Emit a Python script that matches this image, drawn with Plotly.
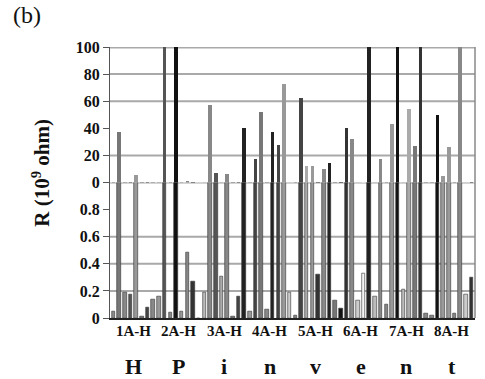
import plotly.graph_objects as go
from plotly.subplots import make_subplots

groups = ["1A-H", "2A-H", "3A-H", "4A-H", "5A-H", "6A-H", "7A-H", "8A-H"]
letters = ["H", "P", "i", "n", "v", "e", "n", "t"]
series = ["A", "B", "C", "D", "E", "F", "G", "H"]

g1 = [0.05, 37, 0.19, 0.17, 5.5, 0.01, 0.08, 0.14]
g2 = [0.16, 100, 0.04, 100, 0.05, 0.48, 0.27, 0.0]
g3 = [0.19, 57, 7, 0.31, 6, 0.01, 0.16, 40]
g4 = [0.05, 17, 52, 0.06, 37, 28, 73, 0.19]
g5 = [0.02, 62, 12, 12, 0.32, 10, 14.5, 0.13]
g6 = [0.07, 40, 32, 0.13, 0.33, 100, 0.16, 17]
g7 = [0.10, 43, 100, 0.21, 54, 27, 100, 0.03]
g8 = [0.02, 50, 5, 26, 0.03, 100, 0.17, 0.30]
group_values = [g1, g2, g3, g4, g5, g6, g7, g8]

top_ticks = [0, 20, 40, 60, 80, 100]
bottom_ticks = [0, 0.2, 0.4, 0.6, 0.8]
top_grid = [20, 60, 80, 100]
bottom_grid = [0.2, 0.4, 0.6, 1.0]

# bar shades (style only), one list per group
shades = [
    ["#8a8a8a", "#777777", "#888888", "#555555", "#999999", "#777777", "#444444", "#888888"],
    ["#999999", "#555555", "#888888", "#111111", "#999999", "#888888", "#333333", "#888888"],
    ["#bbbbbb", "#888888", "#555555", "#aaaaaa", "#888888", "#777777", "#444444", "#222222"],
    ["#999999", "#444444", "#777777", "#888888", "#222222", "#444444", "#999999", "#cccccc"],
    ["#888888", "#444444", "#aaaaaa", "#999999", "#333333", "#888888", "#222222", "#777777"],
    ["#111111", "#333333", "#888888", "#cccccc", "#f4f4f4", "#222222", "#bbbbbb", "#888888"],
    ["#888888", "#999999", "#111111", "#bbbbbb", "#aaaaaa", "#777777", "#333333", "#888888"],
    ["#888888", "#111111", "#999999", "#999999", "#888888", "#888888", "#cccccc", "#333333"],
]

fig = make_subplots(rows=2, cols=1, shared_xaxes=True, vertical_spacing=0)

n = len(series)
for gi, gv in enumerate(group_values):
    xs = [gi * n + k for k in range(n)]
    for row in (1, 2):
        fig.add_trace(go.Bar(x=xs, y=gv, name=groups[gi], width=0.62,
                             marker=dict(color=shades[gi],
                                         line=dict(color="#333333", width=0.6 if row == 2 else 0)),
                             showlegend=False), row=row, col=1)

font = "Liberation Serif, Times New Roman, serif"
gridc = "#a9a9a9"
for v in top_grid:
    fig.add_shape(type="line", xref="x domain", yref="y", x0=0, x1=1, y0=v, y1=v,
                  line=dict(color=gridc, width=2 if v < 100 else 3), layer="below")
for v in bottom_grid:
    fig.add_shape(type="line", xref="x2 domain", yref="y2", x0=0, x1=1, y0=v, y1=v,
                  line=dict(color=gridc, width=2), layer="below")

fig.update_xaxes(range=[-0.6, n * len(groups) - 0.4], showgrid=False, zeroline=False,
                 showticklabels=False, ticks="")
fig.update_xaxes(showline=True, linecolor="#222222", linewidth=1.5, mirror=False, row=2, col=1)
tf = dict(family=font, size=16, color="#111111", weight="bold")
fig.update_yaxes(range=[0, 100], tickvals=top_ticks, ticktext=[str(t) for t in top_ticks],
                 showgrid=False, zeroline=False, showline=True, linecolor="#555555", linewidth=1,
                 ticks="outside", ticklen=6, tickcolor="#555555", tickfont=tf,
                 row=1, col=1)
fig.update_yaxes(range=[0, 1], tickvals=bottom_ticks,
                 ticktext=["0", "0.2", "0.4", "0.6", "0.8"],
                 showgrid=False, zeroline=False, showline=True, linecolor="#555555", linewidth=1,
                 ticks="outside", ticklen=6, tickcolor="#555555", tickfont=tf,
                 row=2, col=1)

# right border
fig.add_shape(type="line", xref="paper", yref="paper", x0=1, x1=1, y0=0, y1=1,
              line=dict(color="#888888", width=1.5))

annotations = []
for gi, g in enumerate(groups):
    xc = gi * n + (n - 1) / 2
    annotations.append(dict(x=xc, xref="x2", y=-0.01, yref="paper", text=g, showarrow=False,
                            yanchor="top", font=dict(family=font, size=15, color="#111111", weight="bold")))
    annotations.append(dict(x=xc, xref="x2", y=-0.125, yref="paper", text=letters[gi], showarrow=False,
                            yanchor="top", font=dict(family=font, size=22, color="#111111", weight="bold")))
annotations.append(dict(x=-0.19, xref="paper", y=0.535, yref="paper", text="R (10<sup>9</sup> ohm)",
                        textangle=-90, showarrow=False, xanchor="center", yanchor="middle",
                        font=dict(family=font, size=21, color="#111111", weight="bold")))
annotations.append(dict(x=-0.27, xref="paper", y=1.175, yref="paper", text="(b)", showarrow=False,
                        xanchor="left", yanchor="top", font=dict(family=font, size=24, color="#111111")))

fig.update_layout(width=485, height=379, margin=dict(l=110, r=10, t=47, b=61),
                  paper_bgcolor="white", plot_bgcolor="white", barmode="group", bargap=0,
                  annotations=annotations, showlegend=False)

fig.write_html("out.html")
